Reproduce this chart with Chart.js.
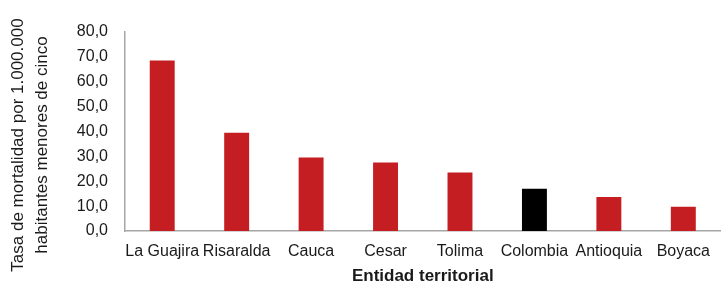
<!DOCTYPE html>
<html>
<head>
<meta charset="utf-8">
<script src="https://cdn.jsdelivr.net/npm/chart.js@4/dist/chart.umd.min.js"></script>
<style>
  html, body { margin: 0; padding: 0; background: #ffffff; }
  #wrap { width: 721px; height: 287px; position: relative; }
</style>
</head>
<body>
<div id="wrap"><canvas id="c" width="721" height="287"></canvas></div>
<script>
const categories = ["La Guajira", "Risaralda", "Cauca", "Cesar", "Tolima", "Colombia", "Antioquia", "Boyaca"];
const tasaValues = [68.5, 39.5, 29.5, 27.5, 23.5, 17.0, 13.7, 9.7];
const barColors = ["#C41E22", "#C41E22", "#C41E22", "#C41E22", "#C41E22", "#000000", "#C41E22", "#C41E22"];
const yTitleLines = ["Tasa de mortalidad por 1.000.000", "habitantes menores de cinco"];
const xTitle = "Entidad territorial";
const yMin = 0, yMax = 80, yStep = 10;

const FONT = "'Liberation Sans', Arial, sans-serif";

const yTitlePlugin = {
  id: 'yTitlePlugin',
  afterDraw(chart) {
    const ctx = chart.ctx;
    ctx.save();
    ctx.fillStyle = '#1a1a1a';
    ctx.font = "17px " + FONT;
    ctx.textAlign = 'center';
    ctx.textBaseline = 'middle';
    const xs = [18, 42];
    yTitleLines.forEach((t, i) => {
      ctx.save();
      ctx.translate(xs[i], 145);
      ctx.rotate(-Math.PI / 2);
      ctx.fillText(t, 0, 0);
      ctx.restore();
    });
    ctx.restore();
  }
};

new Chart(document.getElementById('c'), {
  type: 'bar',
  data: {
    labels: categories,
    datasets: [{
      data: tasaValues,
      backgroundColor: barColors,
      borderWidth: 0,
      categoryPercentage: 1.0,
      barPercentage: 0.335
    }]
  },
  options: {
    responsive: false,
    animation: false,
    devicePixelRatio: 1,
    layout: { padding: { top: 32, right: 0, bottom: 0, left: 0 } },
    plugins: { legend: { display: false }, tooltip: { enabled: false } },
    scales: {
      x: {
        grid: { display: false, drawTicks: false },
        border: { display: true, color: '#a6a6a6', width: 1.5 },
        ticks: { color: '#1a1a1a', font: { family: FONT, size: 16 }, padding: 11, maxRotation: 0, autoSkip: false },
        title: { display: true, text: xTitle, color: '#1a1a1a', font: { family: FONT, size: 17, weight: 'bold' }, padding: { top: 4, bottom: 0 } },
        afterFit(scale) { scale.height = 56; }
      },
      y: {
        min: yMin, max: yMax,
        grid: { display: false, drawTicks: false },
        border: { display: true, color: '#a6a6a6', width: 1.5 },
        ticks: {
          stepSize: yStep,
          color: '#1a1a1a',
          font: { family: FONT, size: 16 },
          padding: 17,
          callback: (v) => Number(v).toFixed(1).replace('.', ',')
        },
        afterFit(scale) { scale.width = 125; }
      }
    }
  },
  plugins: [yTitlePlugin]
});
</script>
</body>
</html>
